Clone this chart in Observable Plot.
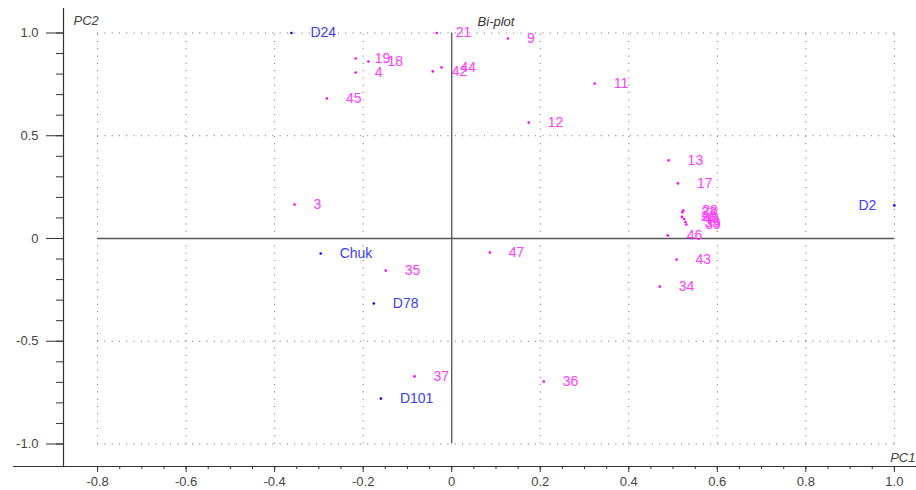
<!DOCTYPE html>
<html><head><meta charset="utf-8">
<script src="https://cdn.jsdelivr.net/npm/d3@7"></script>
<script src="https://cdn.jsdelivr.net/npm/@observablehq/plot@0.6"></script>
<style>body{margin:0;background:#fff} svg{display:block}</style>
</head><body><div id="chart"></div>
<script>
// Variables (magenta)
const varLabels = ["21","9","19","18","4","42","44","45","11","12","13","17","28","22","20","40","33","39","46","43","34","3","35","47","37","36"];
const varPC1 = [-0.034,0.127,-0.217,-0.188,-0.217,-0.043,-0.023,-0.282,0.323,0.174,0.490,0.511,0.523,0.521,0.520,0.525,0.528,0.530,0.488,0.508,0.470,-0.355,-0.149,0.086,-0.084,0.208];
const varPC2 = [1.0,0.973,0.876,0.861,0.808,0.813,0.832,0.681,0.754,0.564,0.380,0.268,0.136,0.128,0.105,0.095,0.080,0.068,0.015,-0.102,-0.234,0.165,-0.156,-0.068,-0.671,-0.696];
// Genotypes (blue)
const genoLabels = ["D24","D2","Chuk","D78","D101"];
const genoPC1 = [-0.362,1.0,-0.296,-0.176,-0.160];
const genoPC2 = [1.0,0.161,-0.073,-0.316,-0.779];
// Axes
const xMajorTicks = [-0.8,-0.6,-0.4,-0.2,0,0.2,0.4,0.6,0.8,1.0];
const xMajorLabels = ["-0.8","-0.6","-0.4","-0.2","0","0.2","0.4","0.6","0.8","1.0"];
const xMinorTicks = [-0.8,-0.75,-0.7,-0.65,-0.6,-0.55,-0.5,-0.45,-0.4,-0.35,-0.3,-0.25,-0.2,-0.15,-0.1,-0.05,0,0.05,0.1,0.15,0.2,0.25,0.3,0.35,0.4,0.45,0.5,0.55,0.6,0.65,0.7,0.75,0.8,0.85,0.9,0.95,1.0];
const yMajorTicks = [-1.0,-0.5,0,0.5,1.0];
const yMajorLabels = ["-1.0","-0.5","0","0.5","1.0"];
const yMinorTicks = [-1.0,-0.9,-0.8,-0.7,-0.6,-0.5,-0.4,-0.3,-0.2,-0.1,0,0.1,0.2,0.3,0.4,0.5,0.6,0.7,0.8,0.9,1.0];
const xGrid = [-0.8,-0.6,-0.4,-0.2,0.2,0.4,0.6,0.8,1.0];
const yGrid = [-1.0,-0.5,0.5,1.0];
const xDomain = [-0.877, 1.05];
const yDomain = [-1.1095, 1.1192];
const xAxisStart = -0.99;
const gridExtentX = [-0.8, 1.0];
const gridExtentY = [-1.0, 1.0];

const vars = varLabels.map((l,i)=>({label:l, pc1:varPC1[i], pc2:varPC2[i]}));
const genos = genoLabels.map((l,i)=>({label:l, pc1:genoPC1[i], pc2:genoPC2[i]}));
const xLab = new Map(xMajorTicks.map((t,i)=>[t,xMajorLabels[i]]));
const yLab = new Map(yMajorTicks.map((t,i)=>[t,yMajorLabels[i]]));

const MAG_DOT = "#ff00ff", MAG_TXT = "#ff3cff", BLUE_DOT = "#0000ff", BLUE_TXT = "#3c3cf5";
const dash = "1,6.3";

const plot = Plot.plot({
  width: 916, height: 490,
  marginLeft: 63, marginRight: 0, marginTop: 8, marginBottom: 24,
  x: {domain: xDomain},
  y: {domain: yDomain},
  style: {fontFamily: "'Liberation Sans', Arial, sans-serif", background: "#fff"},
  marks: [
    // dotted grid
    Plot.ruleX(xGrid, {y1: gridExtentY[0], y2: gridExtentY[1], stroke: "#666", strokeDasharray: dash, strokeWidth: 1}),
    Plot.ruleY(yGrid, {x1: gridExtentX[0], x2: gridExtentX[1], stroke: "#666", strokeDasharray: dash, strokeWidth: 1}),
    // zero lines
    Plot.ruleY([0], {x1: gridExtentX[0], x2: gridExtentX[1], stroke: "#555", strokeWidth: 1.3}),
    Plot.ruleX([0], {y1: gridExtentY[0], y2: gridExtentY[1], stroke: "#555", strokeWidth: 1.3}),
    // axis lines
    Plot.ruleY([yDomain[0]], {x1: xAxisStart, x2: xDomain[1], stroke: "#333", strokeWidth: 1.2}),
    Plot.ruleX([xDomain[0]], {y1: yDomain[0], y2: yDomain[1], stroke: "#333", strokeWidth: 1.2}),
    // x axis ticks
    Plot.axisX({ticks: xMinorTicks, tickSize: 3, tickFormat: () => "", stroke: "#333", label: null}),
    Plot.axisX({ticks: xMajorTicks, tickSize: 6, tickPadding: 4, tickFormat: d => xLab.get(d), fontSize: 13, fill: "#444", stroke: "#333", label: null}),
    // y axis ticks
    Plot.axisY({ticks: yMinorTicks, tickSize: 7, tickFormat: () => "", stroke: "#333", label: null}),
    Plot.axisY({ticks: yMajorTicks, tickSize: 17, tickPadding: 8, tickFormat: d => yLab.get(d), fontSize: 13, fill: "#444", stroke: "#333", label: null}),
    // titles
    Plot.text(["Bi-plot"], {frameAnchor: "top", lineAnchor: "middle", dx: 6, dy: 13, fontSize: 13, fontStyle: "italic", fill: "#333"}),
    Plot.text(["PC2"], {frameAnchor: "top-left", textAnchor: "start", lineAnchor: "middle", dx: 10, dy: 12, fontSize: 13, fontStyle: "italic", fill: "#444"}),
    Plot.text(["PC1"], {frameAnchor: "bottom-right", textAnchor: "end", lineAnchor: "middle", dx: -1, dy: -9, fontSize: 13, fontStyle: "italic", fill: "#444"}),
    // variables
    Plot.dot(vars, {x: "pc1", y: "pc2", r: 1.3, fill: MAG_DOT, stroke: null}),
    Plot.text(vars, {x: "pc1", y: "pc2", text: "label", dx: 19, textAnchor: "start", fontSize: 14, fill: MAG_TXT}),
    // genotypes
    Plot.dot(genos, {x: "pc1", y: "pc2", r: 1.3, fill: BLUE_DOT, stroke: null}),
    Plot.text(genos, {filter: d => d.pc1 < 0.95, x: "pc1", y: "pc2", text: "label", dx: 19, textAnchor: "start", fontSize: 14, fill: BLUE_TXT}),
    Plot.text(genos, {filter: d => d.pc1 >= 0.95, x: "pc1", y: "pc2", text: "label", dx: -18, textAnchor: "end", fontSize: 14, fill: BLUE_TXT})
  ]
});
document.getElementById("chart").appendChild(plot);
</script>
</body></html>
